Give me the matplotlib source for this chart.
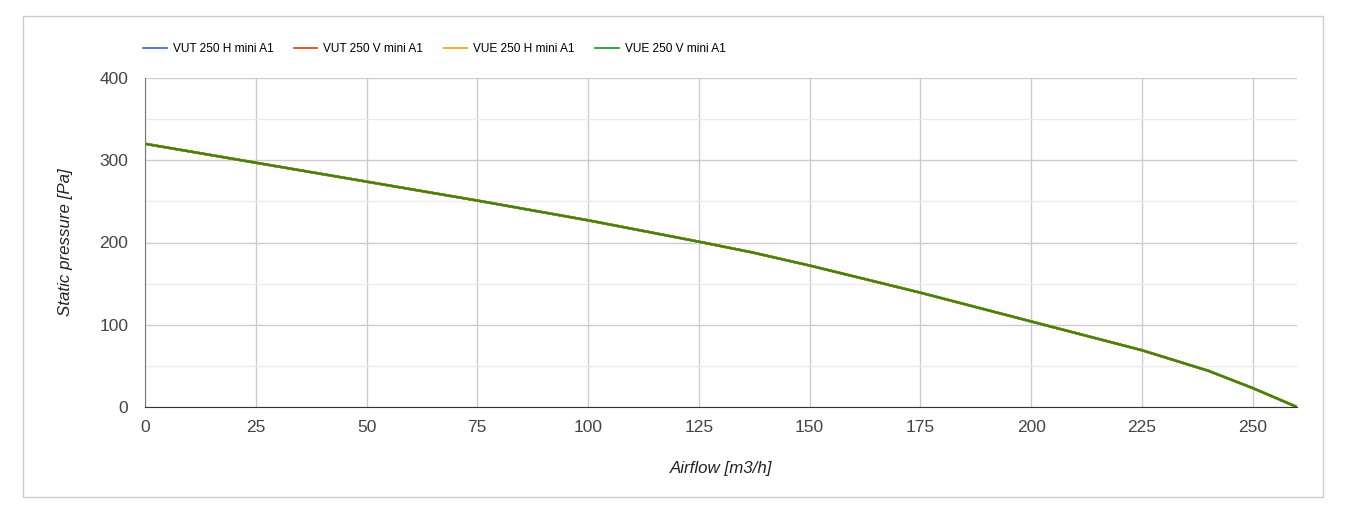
import numpy as np
import matplotlib.pyplot as plt
from matplotlib.patches import Rectangle

plt.rcParams['font.family'] = ['Liberation Sans', 'DejaVu Sans']

# airflow [m3/h] vs static pressure [Pa]
airflow = [0, 25, 50, 75, 100, 125, 137, 150, 175, 200, 225, 240, 250, 260]
pressure = [320, 297, 274, 251, 227, 201, 188, 172, 139, 104, 69, 44, 23, 0]

series = ['VUT 250 H mini A1', 'VUT 250 V mini A1', 'VUE 250 H mini A1', 'VUE 250 V mini A1']
colors = ['#3366cc', '#dc3912', '#ff9900', '#109618']
xticks = [0, 25, 50, 75, 100, 125, 150, 175, 200, 225, 250]
yticks = [0, 100, 200, 300, 400]

fig = plt.figure(figsize=(13.72, 5.07), dpi=100)
ax = fig.add_axes([145/1372, 1 - 407/507, (1297-145)/1372, (407-78)/507])

# frame around chart
fig.patches.append(Rectangle((23/1372, 1 - 497/507), 1300/1372, 481/507,
                             transform=fig.transFigure, fill=False,
                             edgecolor='#cccccc', lw=1))

lines = []
for name, c in zip(series, colors):
    l, = ax.plot(airflow, pressure, color=c, lw=1.8, label=name)
    lines.append(l)
# the overlapping curves look olive-green
lines[-1].set_color('#2f8a12')
lines[-1].set_linewidth(1.6)

ax.set_xlim(0, 260)
ax.set_ylim(0, 400)
ax.set_xticks(xticks)
ax.set_yticks(yticks)
ax.set_yticks([50, 150, 250, 350], minor=True)
ax.grid(True, which='major', color='#cccccc', lw=1)
ax.grid(True, which='minor', axis='y', color='#ebebeb', lw=1)
ax.set_axisbelow(True)
ax.tick_params(which='both', length=0, labelsize=12.5, colors='#444444')
ax.tick_params(axis='x', pad=9)
ax.tick_params(axis='y', pad=12)

for s in ['top', 'right']:
    ax.spines[s].set_visible(False)
ax.spines['left'].set_color('#777777')
ax.spines['bottom'].set_color('#333333')

ax.set_xlabel('Airflow [m3/h]', style='italic', fontsize=12.2, color='#222222', labelpad=19)
ax.set_ylabel('Static pressure [Pa]', style='italic', fontsize=12.2, color='#222222', labelpad=19)

leg = fig.legend(handles=lines, loc='center left',
                 bbox_to_anchor=(132/1372, 1 - 49/507), ncol=4, frameon=False,
                 fontsize=8.6, handlelength=2.0, columnspacing=1.7, handletextpad=0.5)
for h, c in zip(leg.legend_handles, colors):
    h.set_color(c)
    h.set_linewidth(1.2)

fig.savefig('out.png', dpi=100)
